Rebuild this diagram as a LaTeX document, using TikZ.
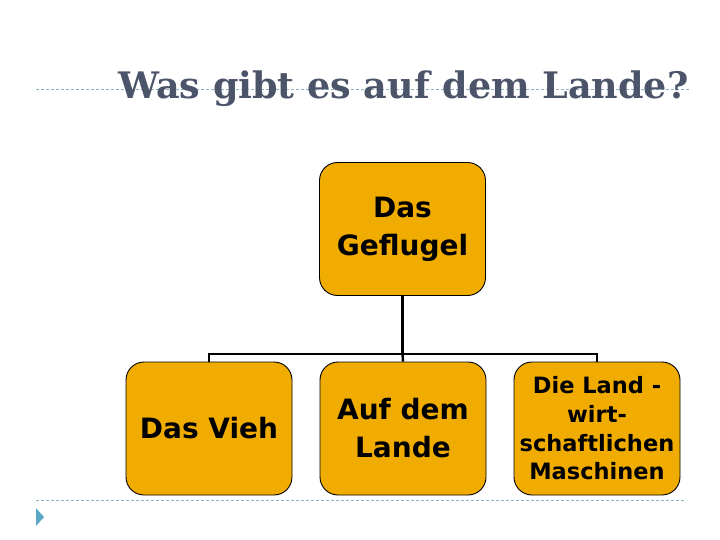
\documentclass[tikz,border=0pt]{standalone}
\usepackage{fontspec}
\setmainfont{DejaVu Sans}
\newfontfamily\titlefont{DejaVu Serif}
\definecolor{boxfill}{HTML}{F0AC00}
\definecolor{titlecol}{HTML}{4B5469}
\definecolor{dashcol}{HTML}{8DB4C4}
\definecolor{markcol}{HTML}{5AA7C6}
\begin{document}
\begin{tikzpicture}[x=1pt,y=-1pt,
  orgbox/.style={draw=black,line width=0.9pt,fill=boxfill,rounded corners=18pt,
    minimum width=166pt,minimum height=133pt,align=center,inner sep=2pt},
  bigtext/.style={font=\fontsize{28}{38}\selectfont\bfseries},
  smalltext/.style={font=\fontsize{22.5}{28.7}\selectfont\bfseries},
  link/.style={draw=black,line width=2.4pt},
  guide/.style={draw=dashcol,line width=0.8pt,dash pattern=on 3pt off 2pt}]
\useasboundingbox (0,0) rectangle (720,540);
\coordinate (tl) at (36,89);
\coordinate (tr) at (690,89);
\coordinate (bl) at (36,500);
\coordinate (br) at (686,500);
\draw[guide] (tl) -- (tr);
\draw[guide] (bl) -- (br);
\fill[markcol] (36,508) -- (44,517) -- (36,526) -- cycle;
\node[text=titlecol,font=\titlefont\fontsize{36.5}{40}\selectfont\bfseries,anchor=base] (title) at (403.5,99) {Was gibt es auf dem Lande?};
\node[orgbox,bigtext] (top) at (402.5,229) {Das\\Geflugel};
\node[orgbox,bigtext] (left) at (209,428.5) {Das Vieh};
\node[orgbox,bigtext] (mid) at (403,428.5) {Auf dem\\Lande};
\node[orgbox,smalltext] (right) at (597,428.5) {Die Land -\\wirt-\\schaftlichen\\Maschinen};
\coordinate (hub) at (402.5,354);
\draw[link] (top.south) -- (hub);
\draw[link] (left.north) |- (hub) -| (right.north);
\draw[link] (hub) -- (mid.north);
\end{tikzpicture}
\end{document}
